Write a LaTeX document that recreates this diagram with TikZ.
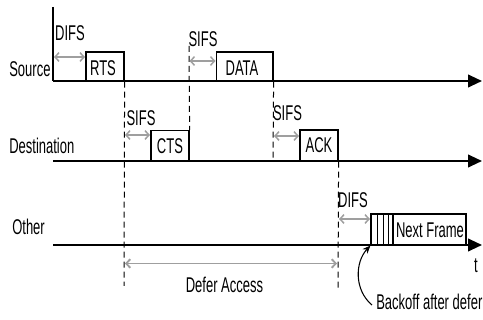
\documentclass[tikz,border=0pt]{standalone}
\usepackage{fontspec}
\setmainfont{Liberation Sans}[FakeStretch=0.61]
\usetikzlibrary{arrows.meta,fit}
\begin{document}
\begin{tikzpicture}[x=0.75pt,y=-0.75pt,
  lbl/.style={font=\fontsize{16}{18}\selectfont, inner sep=0pt, anchor=base},
  axis/.style={line width=1.5pt, -{Triangle[length=10.5pt,width=9.5pt]}},
  frame/.style={draw, line width=0.9pt, inner sep=0pt},
  vdash/.style={line width=0.75pt, dash pattern=on 4.5pt off 3pt},
  gap/.style={draw=gray!75, line width=1.1pt, {Straight Barb[length=3pt,width=6.5pt]}-{Straight Barb[length=3pt,width=6.5pt]}},
  slot/.style={line width=0.7pt}]
\useasboundingbox (0,0) rectangle (483,320);
% time lines
\coordinate (stop) at (53,7);
\coordinate (s0) at (53,81);  \coordinate (s1) at (482,81);
\coordinate (d0) at (53,161); \coordinate (d1) at (482,161);
\coordinate (o0) at (53,245); \coordinate (o1) at (482,245);
% frames
\node[frame, fit={(86,52) (124,81)}] (rts) {};
\node[frame, fit={(216.5,52) (273,81)}] (data) {};
\node[frame, fit={(151,130.5) (189,161)}] (cts) {};
\node[frame, fit={(300,130) (338,161)}] (ack) {};
\node[frame, fit={(371,214) (466,245)}] (next) {};
\draw[slot] (377,214) -- (377,245);
\draw[slot] (383,214) -- (383,245);
\draw[slot] (388,214) -- (388,245);
\draw[line width=0.9pt] (393,214) -- (393,245);
\draw[line width=1.2pt] (stop) -- (s0);
\draw[axis] (s0) -- (s1);
\draw[axis] (d0) -- (d1);
\draw[axis] (o0) -- (o1);
% labels
\node[lbl, anchor=base west] (src) at (9,77) {Source};
\node[lbl, anchor=base west] (dst) at (9,154) {Destination};
\node[lbl, anchor=base west] (oth) at (12,235) {Other};
\node[lbl] (rtsl) at (103,76) {RTS};
\node[lbl] (datal) at (242,76) {DATA};
\node[lbl] (ctsl) at (170,154) {CTS};
\node[lbl] (ackl) at (319,153) {ACK};
\node[lbl] (nextl) at (430,238) {Next Frame};
\node[lbl] (difs1) at (70,41) {DIFS};
\node[lbl] (sifs1) at (203,46.5) {SIFS};
\node[lbl] (sifs2) at (141,126) {SIFS};
\node[lbl] (sifs3) at (287.5,121) {SIFS};
\node[lbl] (difs2) at (353,208) {DIFS};
\node[lbl] (tl) at (476,273) {t};
\node[lbl] (defer) at (224.5,293) {Defer Access};
\node[lbl, anchor=base west] (bo) at (376,310) {Backoff after defer};
% dashed guides
\draw[vdash] (rts.south east) -- (124,286);
\draw[vdash] (189,46) -- (cts.north east);
\draw[vdash] (data.south east) -- (273,161);
\draw[vdash] (ack.south east) -- (338,290);
% interframe spaces
\draw[gap] (54,57) -- (85,57);
\draw[gap] (189.5,61) -- (215.5,61);
\draw[gap] (125,135) -- (150,135);
\draw[gap] (274,136) -- (299,136);
\draw[gap] (339,219) -- (370,219);
\draw[gap, line width=1.4pt] (125,263.5) -- (337,263.5);
% backoff pointer
\draw[line width=0.8pt, -{Stealth[length=6pt,width=5pt]}] (372,305) .. controls (354,290) and (355,262) .. (next.south west);
\end{tikzpicture}
\end{document}
